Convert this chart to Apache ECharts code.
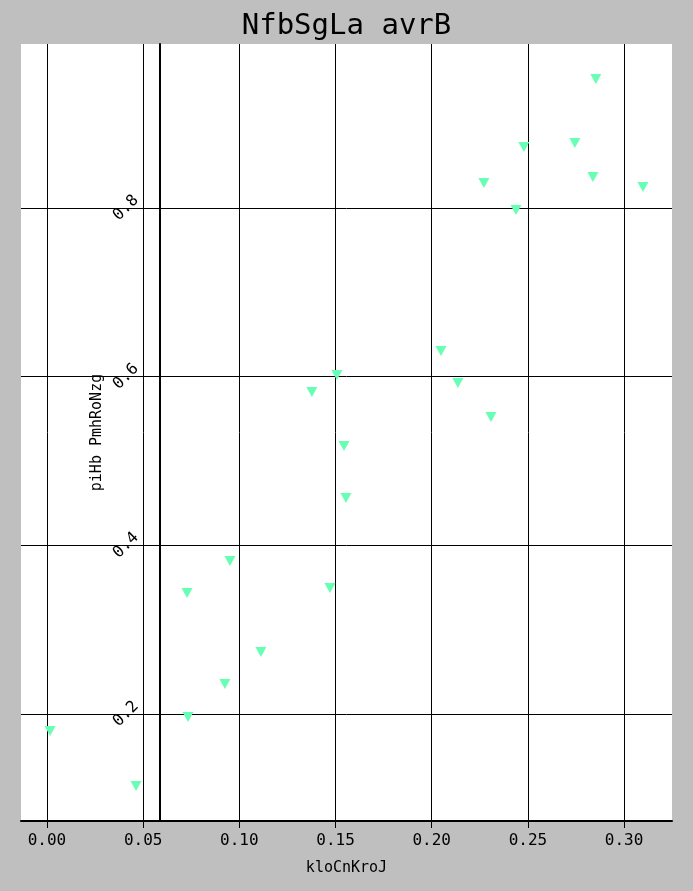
<!DOCTYPE html>
<html>
<head>
<meta charset="utf-8">
<script src="https://cdn.jsdelivr.net/npm/echarts@6/dist/echarts.min.js"></script>
<style>html,body{margin:0;padding:0;background:#bfbfbf;}#c{width:693px;height:891px;}</style>
</head>
<body>
<div id="c"></div>
<script>
const titleText = 'NfbSgLa avrB';
const xName = 'kloCnKroJ';
const yName = 'piHb PmhRoNzg';
const xTicks = [0, 0.05, 0.10, 0.15, 0.20, 0.25, 0.30];
const yTicks = [0.2, 0.4, 0.6, 0.8];
const xValues = [0.2853,0.2479,0.2744,0.2271,0.2838,0.3098,0.2438,0.2048,0.1507,0.2136,0.1377,0.2308,0.1544,0.1554,0.0951,0.0728,0.1471,0.1112,0.0925,0.0733,0.0016,0.0463];
const yValues = [0.9528,0.8722,0.8769,0.8295,0.8366,0.8248,0.7975,0.6303,0.6019,0.5924,0.5817,0.5521,0.5177,0.4561,0.3814,0.3434,0.3494,0.2735,0.2356,0.1964,0.1798,0.1146];
const points = xValues.map((x, i) => [x, yValues[i]]);
const mono = 'DejaVu Sans Mono';
const chart = echarts.init(document.getElementById('c'));
chart.setOption({
  backgroundColor: '#bfbfbf',
  animation: false,
  title: { text: titleText, left: 'center', top: 7, textStyle: { fontFamily: mono, fontSize: 29, fontWeight: 'normal', color: '#000' } },
  grid: { left: 21, right: 21, top: 44, bottom: 70, show: true, backgroundColor: '#fff', borderWidth: 0 },
  xAxis: {
    type: 'value', min: -0.0135, max: 0.3249,
    name: xName, nameLocation: 'middle', nameGap: 40,
    nameTextStyle: { fontFamily: mono, fontSize: 15, color: '#000' },
    axisLine: { show: true, lineStyle: { color: '#000', width: 2 } },
    axisTick: { show: true, length: 7, customValues: xTicks, lineStyle: { color: '#000', width: 1 } },
    axisLabel: { customValues: xTicks, fontFamily: mono, fontSize: 16, color: '#000', margin: 12, formatter: v => v.toFixed(2) },
    splitLine: { show: true, lineStyle: { color: '#000', width: 1 } }
  },
  yAxis: {
    type: 'value', min: 0.073, max: 0.9944,
    position: 'left', offset: -139,
    name: yName, nameLocation: 'middle', nameGap: 55, nameRotate: 90, nameMoveOverlap: false,
    nameTextStyle: { fontFamily: mono, fontSize: 15, color: '#000' },
    axisLine: { show: true, lineStyle: { color: '#000', width: 2 } },
    axisTick: { show: false, customValues: yTicks },
    axisLabel: { customValues: yTicks, rotate: 45, align: 'center', verticalAlign: 'middle', fontFamily: mono, fontSize: 16, color: '#000', margin: 34, formatter: v => v.toFixed(1) },
    splitLine: { show: true, lineStyle: { color: '#000', width: 1 } }
  },
  series: [{
    type: 'scatter', data: points, symbol: 'triangle', symbolRotate: 180, symbolSize: [11, 10],
    itemStyle: { color: '#66ffb3', opacity: 1 }
  }]
});
</script>
</body>
</html>
